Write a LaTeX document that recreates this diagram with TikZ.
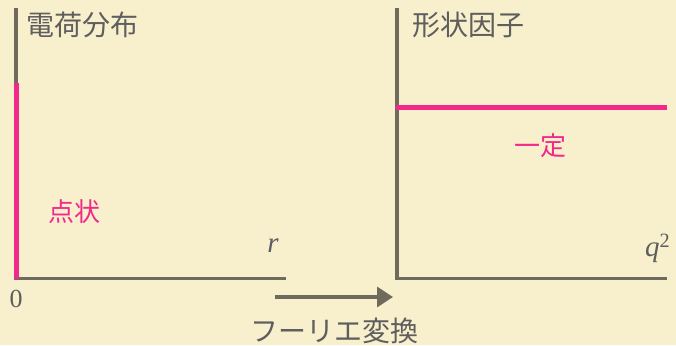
\documentclass[tikz,border=0pt]{standalone}
\usepackage{fontspec}
\setmainfont{Liberation Serif}
\newfontfamily\cjk{Noto Sans CJK JP}
\usetikzlibrary{arrows.meta}
\definecolor{bgc}{HTML}{F8EFCD}
\definecolor{axc}{HTML}{6E6A5C}
\definecolor{txc}{HTML}{5E5E5E}
\definecolor{pnk}{HTML}{F2288A}
\tikzset{
  axis/.style={draw=axc, line width=3.6pt},
  pinkline/.style={draw=pnk, line width=5pt},
  title/.style={text=txc, font=\cjk\fontsize{28}{32}\selectfont, inner sep=0pt, anchor=west},
  pinklabel/.style={text=pnk, font=\cjk\fontsize{26}{30}\selectfont, inner sep=0pt},
  varlabel/.style={text=txc, font=\itshape\fontsize{29}{32}\selectfont, inner sep=0pt},
}
\begin{document}
\begin{tikzpicture}[x=1pt,y=-1pt]
\useasboundingbox[fill=bgc] (0,0) rectangle (676,345);
% left axes
\coordinate (lt) at (16,8);
\coordinate (lo) at (16,278.5);
\coordinate (lr) at (286,278.5);
\coordinate (lp) at (16,83);
\draw[axis] (lt) -- (lo) -- (lr);
\draw[pinkline] (lp) -- (lo);
% right axes
\coordinate (rt) at (397,8);
\coordinate (ro) at (397,278.5);
\coordinate (rr) at (667,278.5);
\coordinate (rpa) at (395.5,107);
\coordinate (rpb) at (667,107);
\draw[axis] (rt) -- (ro) -- (rr);
\draw[pinkline] (rpa) -- (rpb);
% labels
\node[title] (t1) at (26,25) {電荷分布};
\node[title] (t2) at (412,25) {形状因子};
\node[pinklabel] (p1) at (74,212) {点状};
\node[pinklabel] (p2) at (540,146) {一定};
\node[varlabel] (vr) at (273,246) {r};
\node[varlabel, anchor=west] (vq) at (645,248) {q\textsuperscript{\upshape 2}};
\node[text=txc, font=\fontsize{26}{30}\selectfont, inner sep=0pt] (zero) at (16,299) {0};
% transform arrow
\coordinate (aa) at (275,297);
\coordinate (ab) at (393,297);
\draw[draw=axc, line width=3.4pt, -{Triangle[length=16pt,width=20pt]}] (aa) -- (ab);
\node[text=txc, font=\cjk\fontsize{28}{32}\selectfont, inner sep=0pt] (ft) at (334,331) {フーリエ変換};
\end{tikzpicture}
\end{document}
